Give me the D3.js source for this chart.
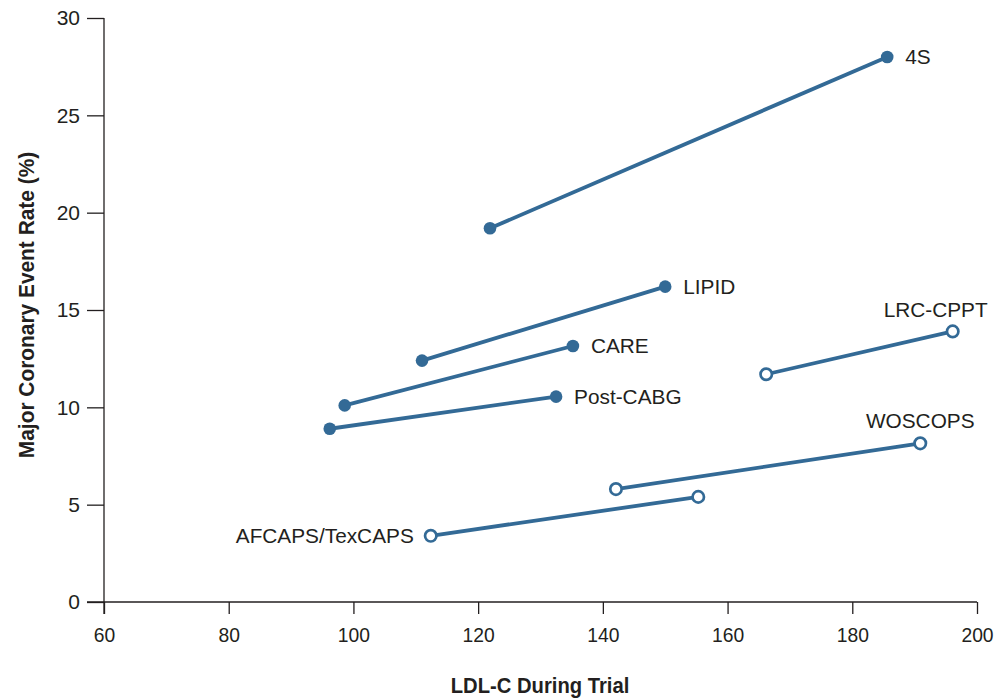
<!DOCTYPE html>
<html>
<head>
<meta charset="utf-8">
<script src="https://cdn.jsdelivr.net/npm/d3@7"></script>
<style>
  html, body { margin: 0; padding: 0; background: #fff; }
  svg { display: block; }
  text { font-family: "Liberation Sans", Arial, Helvetica, sans-serif; }
</style>
</head>
<body>
<svg id="chart" width="1000" height="698"></svg>
<script>
const trials = ["4S", "LIPID", "CARE", "Post-CABG", "LRC-CPPT", "WOSCOPS", "AFCAPS/TexCAPS"];
const ldlStart = [121.9, 111.0, 98.6, 96.2, 166.2, 142.1, 112.4];
const rateStart = [19.2, 12.4, 10.1, 8.9, 11.7, 5.8, 3.4];
const ldlEnd = [185.6, 150.0, 135.2, 132.5, 196.1, 190.9, 155.3];
const rateEnd = [28.0, 16.2, 13.15, 10.55, 13.9, 8.15, 5.4];
const filled = [true, true, true, true, false, false, false];
const xTicks = [60, 80, 100, 120, 140, 160, 180, 200];
const yTicks = [0, 5, 10, 15, 20, 25, 30];

// label placement (style only)
const labelPlacement = {
  "4S": {at: "end", dx: 18, dy: 7, anchor: "start"},
  "LIPID": {at: "end", dx: 18, dy: 7, anchor: "start"},
  "CARE": {at: "end", dx: 18, dy: 7, anchor: "start"},
  "Post-CABG": {at: "end", dx: 18, dy: 7, anchor: "start"},
  "LRC-CPPT": {at: "end", dx: -17, dy: -14, anchor: "middle"},
  "WOSCOPS": {at: "end", dx: 0, dy: -15, anchor: "middle"},
  "AFCAPS/TexCAPS": {at: "start", dx: -17, dy: 7, anchor: "end"}
};

const color = "#336a96";
const textColor = "#231f20";
const svg = d3.select("#chart");
const x = d3.scaleLinear().domain([60, 200]).range([104, 977]);
const y = d3.scaleLinear().domain([0, 30]).range([602, 18]);

// axes
const xAxis = svg.append("g").attr("transform", "translate(0,602)")
  .call(d3.axisBottom(x).tickValues(xTicks).tickSize(12).tickPadding(13).tickSizeOuter(0));
xAxis.select(".domain").remove();
xAxis.append("line").attr("x1", 87).attr("x2", x(200)).attr("y1", 0).attr("y2", 0)
  .attr("stroke", textColor).attr("stroke-width", 1.3);
xAxis.selectAll(".tick line").attr("stroke", textColor).attr("stroke-width", 1.3);
xAxis.selectAll(".tick text").attr("font-size", 21).attr("fill", textColor)
  .attr("transform", "scale(0.92,1)");

const yAxis = svg.append("g").attr("transform", "translate(104,0)")
  .call(d3.axisLeft(y).tickValues(yTicks).tickSize(17).tickPadding(7).tickSizeOuter(0));
yAxis.select(".domain").remove();
yAxis.append("line").attr("x1", 0).attr("x2", 0).attr("y1", y(30)).attr("y2", 614)
  .attr("stroke", textColor).attr("stroke-width", 1.3);
yAxis.selectAll(".tick line").attr("stroke", textColor).attr("stroke-width", 1.3);
yAxis.selectAll(".tick text").attr("font-size", 21).attr("fill", textColor);

// axis titles
svg.append("text")
  .attr("transform", "translate(540,693) scale(0.92,1)").attr("text-anchor", "middle")
  .attr("font-size", 22).attr("font-weight", "bold").attr("fill", textColor)
  .text("LDL-C During Trial");
svg.append("text")
  .attr("transform", "translate(34,305) rotate(-90) scale(0.95,1)").attr("text-anchor", "middle")
  .attr("font-size", 22).attr("font-weight", "bold").attr("fill", textColor)
  .text("Major Coronary Event Rate (%)");

const data = trials.map((t, i) => ({
  name: t, x0: ldlStart[i], y0: rateStart[i], x1: ldlEnd[i], y1: rateEnd[i],
  filled: filled[i], place: labelPlacement[t]
}));

const g = svg.append("g");
g.selectAll("line.seg").data(data).join("line").attr("class", "seg")
  .attr("x1", d => x(d.x0)).attr("y1", d => y(d.y0))
  .attr("x2", d => x(d.x1)).attr("y2", d => y(d.y1))
  .attr("stroke", color).attr("stroke-width", 3.8);

const pts = data.flatMap(d => [
  {x: d.x0, y: d.y0, filled: d.filled},
  {x: d.x1, y: d.y1, filled: d.filled}
]);
g.selectAll("circle").data(pts).join("circle")
  .attr("cx", d => x(d.x)).attr("cy", d => y(d.y))
  .attr("r", d => d.filled ? 6.3 : 5.7)
  .attr("fill", d => d.filled ? color : "#fff")
  .attr("stroke", color).attr("stroke-width", d => d.filled ? 0 : 2.7);

g.selectAll("text.lab").data(data).join("text").attr("class", "lab")
  .attr("font-size", 20.8).attr("fill", textColor)
  .attr("x", d => (d.place.at === "end" ? x(d.x1) : x(d.x0)) + d.place.dx)
  .attr("y", d => (d.place.at === "end" ? y(d.y1) : y(d.y0)) + d.place.dy)
  .attr("text-anchor", d => d.place.anchor)
  .text(d => d.name);
</script>
</body>
</html>
